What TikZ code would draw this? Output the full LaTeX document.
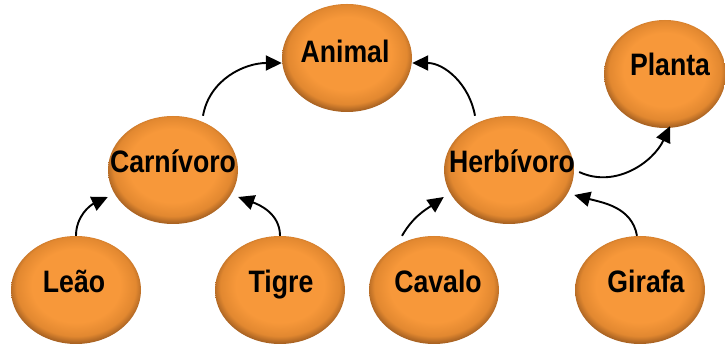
\documentclass[tikz,border=0pt]{standalone}
\usepackage{fontspec}
\newfontfamily\lblfont{Liberation Sans}[FakeStretch=0.86]
\usetikzlibrary{shapes.geometric,arrows.meta,calc}
\definecolor{ballA}{RGB}{247,152,58}
\definecolor{ballB}{RGB}{226,136,48}
\definecolor{ballC}{RGB}{168,98,34}
\pgfdeclareradialshading{ballshade}{\pgfpoint{0bp}{3bp}}{color(0bp)=(ballA); color(17bp)=(ballA); color(23bp)=(ballB); color(26bp)=(ballC); color(50bp)=(ballC)}
\begin{document}
\begin{tikzpicture}[x=1pt,y=1pt,
  ball/.style={ellipse,minimum width=130pt,minimum height=108pt,inner sep=0pt,shading=ballshade},
  lbl/.style={anchor=base,inner sep=0pt,font=\lblfont\bfseries\fontsize{31}{31}\selectfont},
  conn/.style={line width=1.9pt,-{Triangle[length=16pt,width=15pt]}}]
\useasboundingbox (0,0) rectangle (725,345);
% ellipses
\node[ball] (anim) at (347,287) {};
\node[ball] (carn) at (173,175) {};
\node[ball] (herb) at (509,175) {};
\node[ball,minimum width=122pt] (plan) at (665,271) {};
\node[ball] (leao) at (76,55) {};
\node[ball] (tigr) at (280,55) {};
\node[ball] (cava) at (434,55) {};
\node[ball] (gira) at (640,55) {};
% labels
\node[lbl] (animT) at ($(anim.center)+(-2,-5)$) {Animal};
\node[lbl] (carnT) at ($(carn.center)+(0,-3)$) {Carnívoro};
\node[lbl] (herbT) at ($(herb.center)+(3,-3)$) {Herbívoro};
\node[lbl] (planT) at ($(plan.center)+(5,-2)$) {Planta};
\node[lbl] (leaoT) at ($(leao.center)+(-2,-3)$) {Leão};
\node[lbl] (tigrT) at ($(tigr.center)+(1,-3)$) {Tigre};
\node[lbl] (cavaT) at ($(cava.center)+(4,-3)$) {Cavalo};
\node[lbl] (giraT) at ($(gira.center)+(6,-3)$) {Girafa};
% connectors
\draw[conn] ([xshift=30pt]carn.north) to[out=80,in=180] ([yshift=-5pt]anim.west);
\draw[conn] ([xshift=-34pt]herb.north) to[out=100,in=0] ([yshift=-5pt]anim.east);
\draw[conn] ([xshift=5pt,yshift=-2pt]herb.east) to[out=-25,in=245] ([xshift=5pt,yshift=2pt]plan.south);
\draw[conn] (leao.north) to[out=90,in=205] ([yshift=-27pt]carn.west);
\draw[conn] (tigr.north) to[out=90,in=-20] ([yshift=-27pt]carn.east);
\draw[conn] ([xshift=-32pt]cava.north) to[out=60,in=215] ([yshift=-27pt]herb.west);
\draw[conn] ([xshift=-3pt]gira.north) to[out=100,in=-15] ([yshift=-25pt]herb.east);
\end{tikzpicture}
\end{document}
